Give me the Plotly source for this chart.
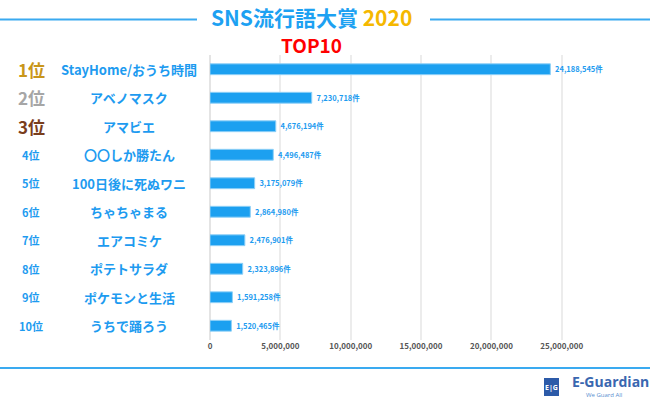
import plotly.graph_objects as go

ranks = ["1位", "2位", "3位", "4位", "5位", "6位", "7位", "8位", "9位", "10位"]
words = ["StayHome/おうち時間", "アベノマスク", "アマビエ", "〇〇しか勝たん", "100日後に死ぬワニ",
         "ちゃちゃまる", "エアコミケ", "ポテトサラダ", "ポケモンと生活", "うちで踊ろう"]
counts = [24188545, 7230718, 4676194, 4496487, 3175079,
          2864980, 2476901, 2323896, 1591258, 1520465]
tick_vals = [0, 5000000, 10000000, 15000000, 20000000, 25000000]
tick_text = ["0", "5,000,000", "10,000,000", "15,000,000", "20,000,000", "25,000,000"]

W, H = 650, 398
L, R, T, B = 210, 611, 55, 340
BLUE = "#1d9bf0"
FONT = "Noto Sans CJK JP"

def px(x):
    return (x - L) / (R - L)

def py(y):
    return (B - y) / (B - T)

fig = go.Figure()
fig.add_trace(go.Bar(
    x=counts, y=ranks, orientation="h",
    marker=dict(color="#1ca0f0", line=dict(color="#8fd0f7", width=1)),
    width=0.38,
    text=counts, texttemplate=" %{x:,}件", textposition="outside",
    textfont=dict(color=BLUE, size=9, family=FONT, weight="bold"),
    cliponaxis=False,
))

rank_styles = {0: ("#c9961a", 17), 1: ("#a6a6a6", 17), 2: ("#7a3e1c", 17)}
annotations = []
for i, (r, w) in enumerate(zip(ranks, words)):
    col, sz = rank_styles.get(i, (BLUE, 11))
    annotations.append(dict(x=px(31), xref="paper", y=r, yref="y", text=f"<b>{r}</b>",
                            showarrow=False, xanchor="center",
                            font=dict(color=col, size=sz, family=FONT)))
    annotations.append(dict(x=px(129), xref="paper", y=r, yref="y", text=f"<b>{w}</b>",
                            showarrow=False, xanchor="center",
                            font=dict(color=BLUE, size=13, family=FONT)))

annotations += [
    dict(x=px(311), y=py(17), xref="paper", yref="paper", showarrow=False,
         text="<b><span style='color:#1da1f2'>SNS流行語大賞</span> <span style='color:#f5b800'>2020</span></b>",
         font=dict(size=21, family=FONT), xanchor="center", yanchor="middle"),
    dict(x=px(311), y=py(45), xref="paper", yref="paper", showarrow=False,
         text="<b>TOP10</b>", font=dict(size=19, family=FONT, color="#ff0000"),
         xanchor="center", yanchor="middle"),
    dict(x=px(570), y=py(381), xref="paper", yref="paper", showarrow=False,
         text="<b>E-Guardian</b>", font=dict(size=14, family="Open Sans", color="#3a67b0"),
         xanchor="left", yanchor="middle"),
    dict(x=px(604), y=py(395), xref="paper", yref="paper", showarrow=False,
         text="We Guard All", font=dict(size=6, family="Open Sans", color="#5b8fd0"),
         xanchor="center", yanchor="middle"),
    dict(x=px(551.5), y=py(387), xref="paper", yref="paper", showarrow=False,
         text="<b>E|G</b>", font=dict(size=7, family="Open Sans", color="white"),
         xanchor="center", yanchor="middle"),
]

shapes = [
    dict(type="line", xref="paper", yref="paper", x0=px(0), x1=px(197), y0=py(19.5), y1=py(19.5),
         line=dict(color="#3aaaf0", width=2)),
    dict(type="line", xref="paper", yref="paper", x0=px(430), x1=px(650), y0=py(19.5), y1=py(19.5),
         line=dict(color="#3aaaf0", width=2)),
    dict(type="line", xref="paper", yref="paper", x0=px(0), x1=px(650), y0=py(368), y1=py(368),
         line=dict(color="#3aaaf0", width=2)),
    dict(type="rect", xref="paper", yref="paper", x0=px(544), x1=px(559), y0=py(378), y1=py(396),
         fillcolor="#2c5aa8", line=dict(width=0)),
]

fig.update_layout(
    width=W, height=H,
    margin=dict(l=L, r=W - R, t=T, b=H - B, pad=0),
    paper_bgcolor="white", plot_bgcolor="white",
    showlegend=False,
    xaxis=dict(range=[0, 28.5e6], tickvals=tick_vals, ticktext=tick_text,
               showgrid=True, gridcolor="#ececec", gridwidth=1.5,
               zeroline=True, zerolinecolor="#e4e4e4", zerolinewidth=1.5,
               tickfont=dict(size=8, color="#555555", family=FONT, weight="bold"),
               ticks="", fixedrange=True),
    yaxis=dict(showticklabels=False, showgrid=False, ticks="",
               zeroline=False, autorange=False, range=[9.5, -0.5]),
    annotations=annotations, shapes=shapes,
    bargap=0.6,
)

fig.write_html("out.html", config={"displayModeBar": False},
               post_script="document.body.style.margin='0';document.body.style.overflow='hidden';")
